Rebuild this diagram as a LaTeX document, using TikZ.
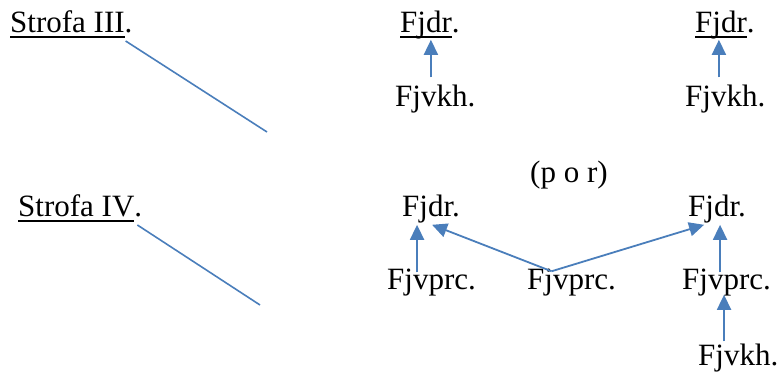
\documentclass[tikz,border=0pt]{standalone}
\usepackage{fontspec}
\setmainfont{Liberation Serif}
\usetikzlibrary{arrows.meta,calc}
\definecolor{linkblue}{RGB}{74,126,187}
% underline set at a fixed depth below the baseline, crossing descenders
\newcommand\ulword[1]{\setbox0\hbox{#1}\rlap{\rule[-5pt]{\wd0}{1.8pt}}\box0}
\tikzset{
  word/.style={anchor=base west,inner sep=0pt,font=\fontsize{31}{37}\selectfont},
  arr/.style={linkblue,line width=1.8pt,-{Triangle[length=15pt,width=14pt]}},
  bar/.style={linkblue,line width=1.6pt}
}
\begin{document}
\begin{tikzpicture}[x=1pt,y=-1pt]
\useasboundingbox (0,0) rectangle (780,374);

% Strofa III
\node[word] (s3) at (10,33) {\ulword{Strofa III}.};
\node[word] (d1) at (400,33) {\ulword{Fjdr}.};
\node[word] (d2) at (695,33) {\ulword{Fjdr}.};
\node[word] (k1) at (395,107) {Fjvkh.};
\node[word] (k2) at (685,107) {Fjvkh.};
\coordinate (e3) at (267,132);

% Strofa IV
\node[word] (por) at (530,183) {(p o r)};
\node[word] (s4) at (18,217) {\ulword{Strofa IV}.};
\node[word] (d3) at (402,217) {Fjdr.};
\node[word] (d4) at (688,217) {Fjdr.};
\node[word] (p1) at (387,290) {Fjvprc.};
\node[word] (p2) at (527,290) {Fjvprc.};
\node[word] (p3) at (682,290) {Fjvprc.};
\node[word] (k3) at (698,366) {Fjvkh.};
\coordinate (e4) at (260,305);

% slanting strokes after the headings
\draw[bar] ($(s3.base east)+(-7pt,-8pt)$) -- (e3);
\draw[bar] ($(s4.base east)+(-5pt,-8pt)$) -- (e4);

% upper arrows
\draw[arr] (d1.south |- k1.north) ++(1pt,8pt) -- ($(d1.south)+(1pt,0pt)$);
\draw[arr] (d2.south |- k2.north) ++(-6pt,8pt) -- ($(d2.south)+(-6pt,0pt)$);

% lower arrows
\draw[arr] (d3.south |- p1.north) ++(-14pt,-3pt) -- ($(d3.south)+(-14pt,-1pt)$);
\draw[arr] ($(p2.north)+(-20pt,-2pt)$) -- ($(d3.south)+(1pt,-1pt)$);
\draw[arr] ($(p2.north)+(-20pt,-2pt)$) -- ($(d4.south)+(-13pt,-1pt)$);
\draw[arr] (d4.south |- p3.north) ++(3pt,-3pt) -- ($(d4.south)+(3pt,-1pt)$);
\draw[arr] (p3.south |- k3.north) ++(-2.5pt,3pt) -- ($(p3.south)+(-2.5pt,2pt)$);
\end{tikzpicture}
\end{document}
